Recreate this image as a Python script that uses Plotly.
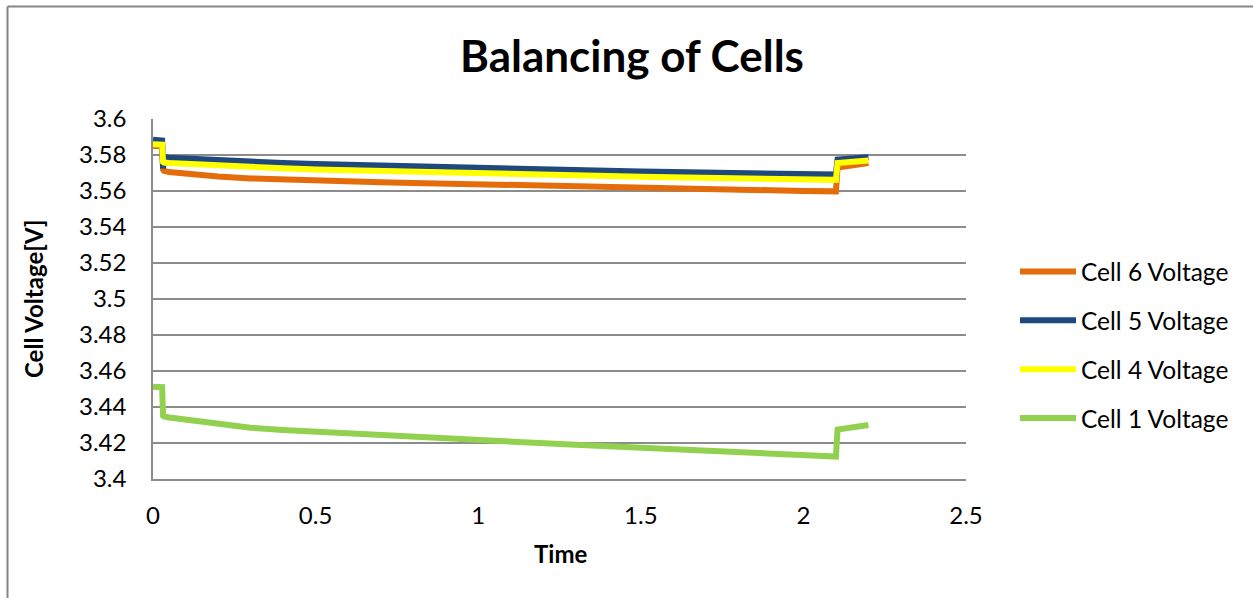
import plotly.graph_objects as go

# Elapsed time and measured cell voltages
time = [0, 0.02, 0.028, 0.031, 0.034, 0.05, 0.1, 0.2, 0.3, 0.4, 0.5, 0.6, 0.7, 0.8,
        0.9, 1.0, 1.1, 1.2, 1.3, 1.4, 1.5, 1.6, 1.7, 1.8, 1.9, 2.0, 2.05, 2.095,
        2.1, 2.105, 2.15, 2.2]

cell6 = [3.5850, 3.5850, 3.5850, 3.5720, 3.5712, 3.5705, 3.5695, 3.5680, 3.5670,
         3.5663, 3.5657, 3.5652, 3.5648, 3.5645, 3.5642, 3.5638, 3.5635, 3.5632,
         3.5628, 3.5624, 3.5620, 3.5616, 3.5612, 3.5608, 3.5604, 3.5600, 3.5598,
         3.5596, 3.5598, 3.5730, 3.5745, 3.5755]

cell5 = [3.5885, 3.5885, 3.5880, 3.5725, 3.5790, 3.5785, 3.5780, 3.5770, 3.5762,
         3.5755, 3.5750, 3.5745, 3.5740, 3.5736, 3.5732, 3.5728, 3.5724, 3.5720,
         3.5716, 3.5712, 3.5708, 3.5705, 3.5702, 3.5698, 3.5695, 3.5692, 3.5690,
         3.5688, 3.5692, 3.5775, 3.5782, 3.5788]

cell4 = [3.5860, 3.5860, 3.5858, 3.5762, 3.5758, 3.5755, 3.5750, 3.5740, 3.5732,
         3.5726, 3.5720, 3.5715, 3.5711, 3.5707, 3.5703, 3.5699, 3.5695, 3.5691,
         3.5687, 3.5683, 3.5679, 3.5676, 3.5672, 3.5669, 3.5666, 3.5663, 3.5661,
         3.5660, 3.5662, 3.5755, 3.5765, 3.5770]

cell1 = [3.4512, 3.4512, 3.4510, 3.4352, 3.4348, 3.4342, 3.4330, 3.4305, 3.4285,
         3.4272, 3.4262, 3.4252, 3.4243, 3.4235, 3.4226, 3.4218, 3.4208, 3.4198,
         3.4190, 3.4182, 3.4174, 3.4165, 3.4157, 3.4148, 3.4140, 3.4130, 3.4126,
         3.4122, 3.4125, 3.4275, 3.4290, 3.4300]

series_names = ["Cell 6 Voltage", "Cell 5 Voltage", "Cell 4 Voltage", "Cell 1 Voltage"]
series_colors = ["#E46C0A", "#1F497D", "#FFFF00", "#92D050"]

x_ticks = [0, 0.5, 1, 1.5, 2, 2.5]
x_tick_text = ["0", "0.5", "1", "1.5", "2", "2.5"]
y_ticks = [3.4, 3.42, 3.44, 3.46, 3.48, 3.5, 3.52, 3.54, 3.56, 3.58, 3.6]
y_tick_text = ["3.4", "3.42", "3.44", "3.46", "3.48", "3.5", "3.52", "3.54",
               "3.56", "3.58", "3.6"]

FONT = "Lato"
W, H = 1253, 598
L, R, T, B = 153, 287, 119, 119
GRID = "#8C8C8C"
TXT = 24

fig = go.Figure()
for name, color, vals in zip(series_names, series_colors, [cell6, cell5, cell4, cell1]):
    fig.add_trace(go.Scatter(
        x=time, y=vals, mode="lines", name=name, legendgroup=name,
        line=dict(color=color, width=6),
    ))

pw = W - L - R
ph = H - T - B

fig.update_layout(
    width=W, height=H, autosize=False,
    margin=dict(l=L, r=R, t=T, b=B, pad=0),
    paper_bgcolor="white", plot_bgcolor="white",
    font=dict(family=FONT, color="black", size=TXT),
    title=dict(text="<b>Balancing of Cells</b>", font=dict(size=44, family=FONT),
               xref="container", x=632 / W, xanchor="center",
               yref="container", y=1 - 57 / H, yanchor="middle"),
    xaxis=dict(range=[0, 2.5], tickvals=x_ticks, ticktext=x_tick_text,
               showgrid=False, zeroline=False, showline=True, linecolor=GRID,
               linewidth=1.5, ticks="", ticklabelstandoff=14,
               tickfont=dict(size=TXT)),
    yaxis=dict(range=[3.4, 3.6], tickvals=y_ticks, ticktext=y_tick_text,
               showgrid=True, gridcolor=GRID, gridwidth=1.5, zeroline=False,
               showline=True, linecolor=GRID, linewidth=1.5, ticks="",
               ticklabelstandoff=20, tickfont=dict(size=TXT)),
    legend=dict(x=(1015 - L) / pw, xanchor="left", y=(T + ph - 345) / ph,
                yanchor="middle", yref="paper", font=dict(size=24.5),
                itemwidth=56, tracegroupgap=14, bgcolor="rgba(0,0,0,0)"),
    showlegend=True,
)

# Axis titles
fig.add_annotation(text="<b>Time</b>", xref="paper", yref="paper",
                   x=(560 - L) / pw, y=-(553 - T - ph) / ph, showarrow=False,
                   xanchor="center", yanchor="middle", font=dict(size=TXT))
fig.add_annotation(text="<b>Cell Voltage[V]</b>", xref="paper", yref="paper",
                   x=(33 - L) / pw, y=0.5, showarrow=False, textangle=-90,
                   xanchor="center", yanchor="middle", font=dict(size=TXT))

# Chart frame (left and top edges)
fig.add_shape(type="line", xref="paper", yref="paper",
              x0=(7.5 - L) / pw, x1=(W + 5 - L) / pw,
              y0=1 + (T - 6.5) / ph, y1=1 + (T - 6.5) / ph,
              line=dict(color="#868686", width=2))
fig.add_shape(type="line", xref="paper", yref="paper",
              x0=(7.5 - L) / pw, x1=(7.5 - L) / pw,
              y0=-(H + 5 - T - ph) / ph, y1=1 + (T - 6.5) / ph,
              line=dict(color="#868686", width=2))

fig.write_html("out.html")
